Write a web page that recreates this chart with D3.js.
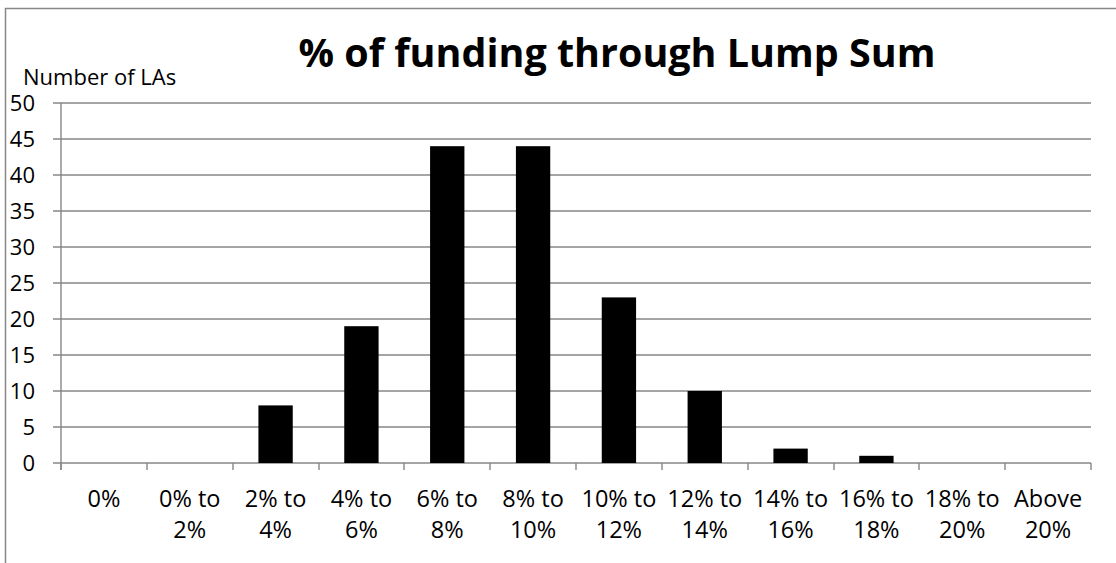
<!DOCTYPE html>
<html><head><meta charset="utf-8">
<script src="https://cdn.jsdelivr.net/npm/d3@7"></script>
<style>body{margin:0;background:#fff}svg{display:block}</style>
</head><body>
<svg id="c" width="1116" height="563"></svg>
<script>
const categories = [["0%"],["0% to","2%"],["2% to","4%"],["4% to","6%"],["6% to","8%"],["8% to","10%"],["10% to","12%"],["12% to","14%"],["14% to","16%"],["16% to","18%"],["18% to","20%"],["Above","20%"]];
const values = [0,0,8,19,44,44,23,10,2,1,0,0];
const yTicks = [0,5,10,15,20,25,30,35,40,45,50];
const titleText = "% of funding through Lump Sum";
const yLabel = "Number of LAs";

const svg = d3.select("#c");
const font = "'Open Sans', sans-serif";
const grey = "#878787";
const L = 61, R = 1091, T = 103, B = 463;

svg.append("rect").attr("x",5.5).attr("y",8.5).attr("width",1300).attr("height",800)
  .attr("fill","#fff").attr("stroke",grey).attr("stroke-width",1.5);

const x = d3.scaleBand().domain(d3.range(categories.length)).range([L,R]).paddingInner(0.6).paddingOuter(0.3);
const y = d3.scaleLinear().domain([0,50]).range([B,T]);

// gridlines
svg.append("g").selectAll("line").data(yTicks).join("line")
  .attr("x1",L-8).attr("x2",R).attr("y1",d=>Math.round(y(d))).attr("y2",d=>Math.round(y(d)))
  .attr("stroke",grey).attr("stroke-width",1.4);
// y axis line
svg.append("line").attr("x1",L).attr("x2",L).attr("y1",T).attr("y2",B+7).attr("stroke",grey).attr("stroke-width",1.4);
// x ticks at boundaries
const step = x.step();
svg.append("g").selectAll("line").data(d3.range(categories.length+1)).join("line")
  .attr("x1",i=>Math.round(L+i*step)).attr("x2",i=>Math.round(L+i*step)).attr("y1",B).attr("y2",B+7)
  .attr("stroke",grey).attr("stroke-width",1.4);

// bars
svg.append("g").selectAll("rect").data(values).join("rect")
  .attr("x",(d,i)=>x(i)).attr("width",x.bandwidth())
  .attr("y",d=>y(d)).attr("height",d=>B-y(d)).attr("fill","#000");

// y tick labels
svg.append("g").selectAll("text").data(yTicks).join("text")
  .attr("x",35).attr("y",d=>y(d)+8).attr("text-anchor","end")
  .attr("font-family",font).attr("font-size",22).attr("fill","#000").text(d=>d);

// x labels
const xl = svg.append("g").selectAll("text").data(categories).join("text")
  .attr("text-anchor","middle").attr("font-family",font).attr("font-size",23.5).attr("fill","#000");
xl.selectAll("tspan").data((d,i)=>d.map(t=>({t,i}))).join("tspan")
  .attr("x",d=>x(d.i)+x.bandwidth()/2).attr("y",(d,j)=>507+j*31).text(d=>d.t);

// y label
svg.append("text").attr("x",23).attr("y",85).attr("font-family",font).attr("font-size",22)
  .attr("fill","#000").text(yLabel);

// title
const t = svg.append("text").attr("x",617).attr("y",67).attr("text-anchor","middle")
  .attr("font-family",font).attr("font-weight","bold").attr("font-size",40).attr("fill","#000").text(titleText);
const w = t.node().getComputedTextLength();
t.attr("font-size", 40*637/w);
</script>
</body></html>
